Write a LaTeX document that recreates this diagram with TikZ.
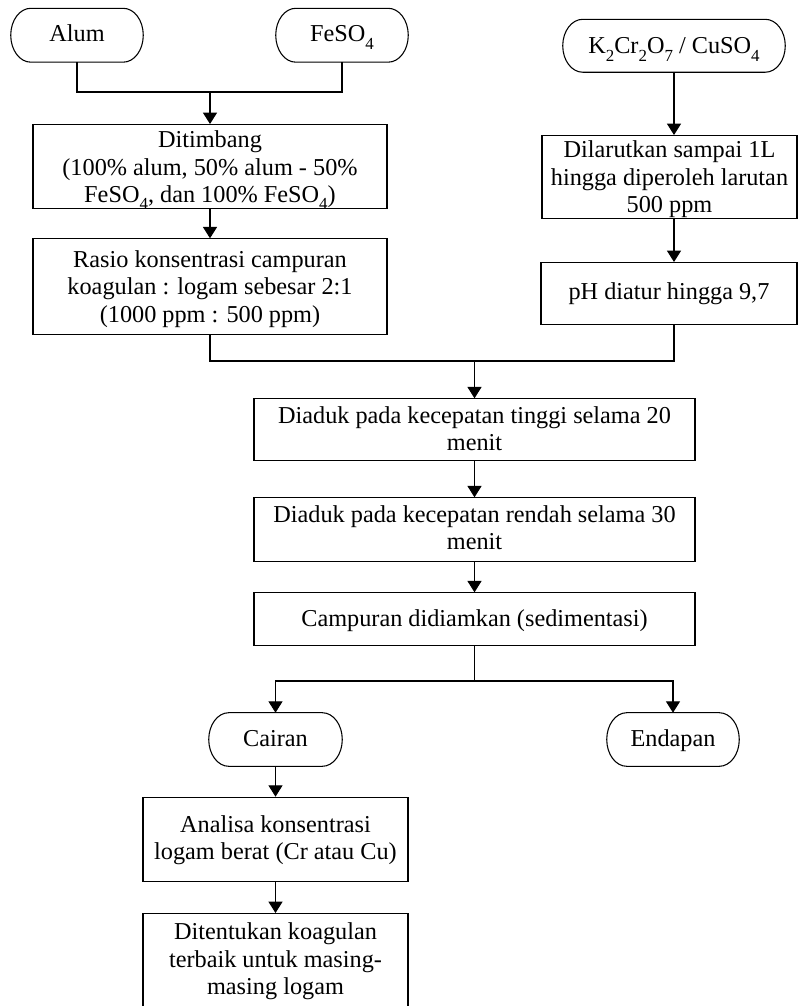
\documentclass[tikz,border=0pt]{standalone}
\usepackage{fontspec}
\setmainfont{Liberation Serif}
\usetikzlibrary{arrows.meta,calc}

% Centred lines of text whose baseline is that of the first line
\newcommand\lines[1]{\begin{tabular}[t]{@{}c@{}}#1\end{tabular}}
% Chemical-formula subscript
\newcommand\sub[1]{\raisebox{-5.6pt}{\fontsize{12.7}{12.7}\selectfont #1}}

% Terminator outline (flat top and bottom, elliptical ends) around a named node
\newcommand\termoutline[1]{%
  \draw[line width=0.8pt] let \p1=(#1.north east), \p2=(#1.south west),
    \n1={(\y1-\y2)/2} in
    (\x2+15pt,\y1) -- (\x1-15pt,\y1)
    arc[start angle=90, end angle=-90, x radius=15pt, y radius=\n1]
    -- (\x2+15pt,\y2)
    arc[start angle=270, end angle=90, x radius=15pt, y radius=\n1]
    -- cycle;}

\begin{document}
\begin{tikzpicture}[x=0.75pt,y=-0.75pt,
  every node/.style={font=\fontsize{18.2}{20.6}\selectfont, inner sep=0pt, anchor=north},
  procbox/.style={draw, line width=0.8pt},
  term/.style={draw=none},
  link/.style={line width=0.8pt},
  arr/.style={line width=0.8pt, -{Triangle[width=10.5pt,length=8.5pt]}}]

\fill[white] (0,0) rectangle (798,1006);
\useasboundingbox (0,0) rectangle (798,1006);
\clip (0,0) rectangle (798,1006);

% start materials
\node[term, minimum width=99pt, text height=25pt, text depth=15pt] (alum) at (77,8.3) {Alum};
\node[term, minimum width=99pt, text height=25pt, text depth=15pt] (feso) at (342,8.3) {FeSO\sub{4}};
\node[term, minimum width=166.5pt, text height=25.5pt, text depth=13.8pt] (kcr) at (674,19.3)
  {K\sub{2}Cr\sub{2}O\sub{7} / CuSO\sub{4}};
\termoutline{alum}
\termoutline{feso}
\termoutline{kcr}

% coagulant branch
\node[procbox, minimum width=265.5pt, text height=17.25pt, text depth=45.75pt] (tim) at (210,124)
  {\lines{Ditimbang\\(100\% alum, 50\% alum - 50\%\\FeSO\sub{4}, dan 100\% FeSO\sub{4})}};
\node[procbox, minimum width=265.5pt, text height=21.3pt, text depth=50.5pt] (rasio) at (210,238.3)
  {\lines{Rasio konsentrasi campuran\\koagulan : logam sebesar 2:1\\(1000 ppm : 500 ppm)}};

% metal solution branch
\node[procbox, minimum width=191.25pt, text height=16.5pt, text depth=45.75pt] (larut) at (669.5,135)
  {\lines{Dilarutkan sampai 1L\\hingga diperoleh larutan\\500 ppm}};
\node[procbox, minimum width=192pt, text height=27.75pt, text depth=18.75pt] (ph) at (669,262)
  {pH diatur hingga 9,7};

% mixing and settling
\node[procbox, minimum width=330.75pt, text height=18.3pt, text depth=28.2pt] (d1) at (474.5,398.3)
  {\lines{Diaduk pada kecepatan tinggi selama 20\\menit}};
\node[procbox, minimum width=330.75pt, text height=18.3pt, text depth=29.7pt] (d2) at (474.5,497.3)
  {\lines{Diaduk pada kecepatan rendah selama 30\\menit}};
\node[procbox, minimum width=330.75pt, text height=25pt, text depth=14.5pt] (camp) at (474.5,592.3)
  {Campuran didiamkan (sedimentasi)};

% products
\node[term, minimum width=99.75pt, text height=25pt, text depth=14.8pt] (cair) at (275.5,712.7) {Cairan};
\node[term, minimum width=99pt, text height=25pt, text depth=14.8pt] (endap) at (673,712.7) {Endapan};
\termoutline{cair}
\termoutline{endap}

\node[procbox, minimum width=198.75pt, text height=26.25pt, text depth=36.75pt] (anal) at (275.5,796.7)
  {\lines{Analisa konsentrasi\\logam berat (Cr atau Cu)}};
\node[procbox, minimum width=198.75pt, text height=19.5pt, text depth=52pt] (tent) at (275.5,913)
  {\lines{Ditentukan koagulan\\terbaik untuk masing-\\masing logam}};

% connectors
\coordinate (j1) at (210,92);
\coordinate (j2) at (474.5,361);
\coordinate (j3) at (474.5,681);

\draw[link] (alum.south) |- (j1) -| (feso.south);
\draw[arr] (j1) -- (tim.north);
\draw[arr] (tim.south) -- (rasio.north);

\draw[arr] (kcr.south) -- (kcr.south |- larut.north);
\draw[arr] (kcr.south |- larut.south) -- (kcr.south |- ph.north);

\draw[link] (rasio.south) |- (j2) -| (kcr.south |- ph.south);
\draw[arr] (j2) -- (d1.north);
\draw[arr] (d1.south) -- (d2.north);
\draw[arr] (d2.south) -- (camp.north);

\draw[link] (camp.south) -- (j3);
\draw[arr] (j3) -| (cair.north);
\draw[arr] (j3) -| (endap.north);
\draw[arr] (cair.south) -- (anal.north);
\draw[arr] (anal.south) -- (tent.north);
\end{tikzpicture}
\end{document}
